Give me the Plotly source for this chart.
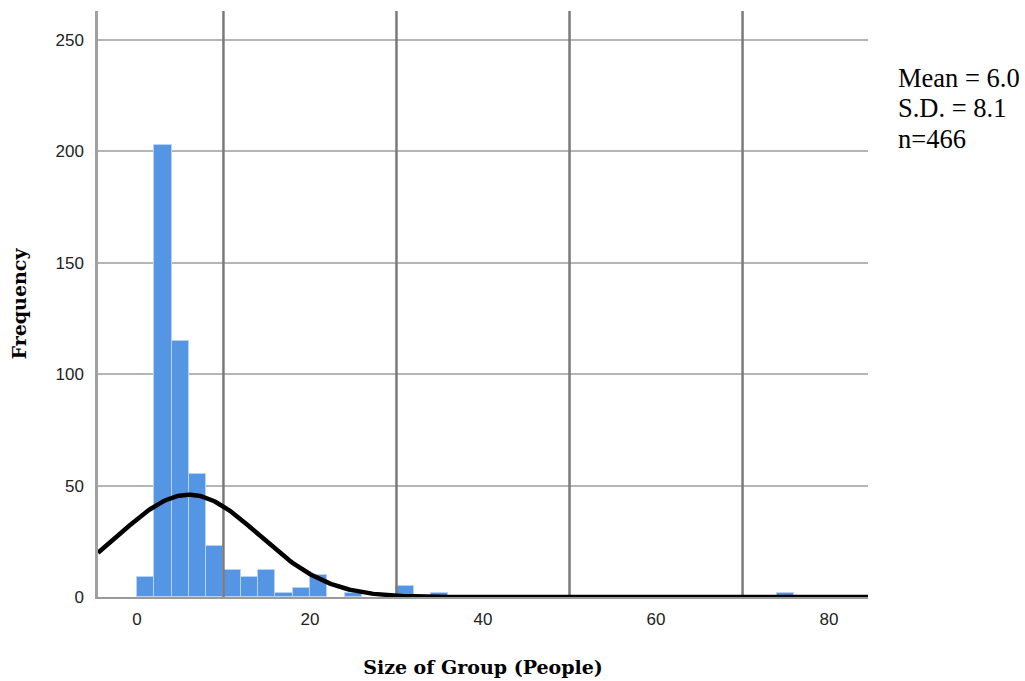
import math
import plotly.graph_objects as go

# ---- data ----
bin_starts = [0, 2, 4, 6, 8, 10, 12, 14, 16, 18, 20, 24, 30, 34, 74]
counts = [9, 203, 115, 55, 23, 12, 9, 12, 2, 4, 10, 2, 5, 2, 2]
bin_width = 2
mean_val = 6.0
sd_val = 8.1
n_val = 466
x_ticks = [0, 20, 40, 60, 80]
x_grid = [10, 30, 50, 70]
y_ticks = [0, 50, 100, 150, 200, 250]
stats_lines = ["Mean = 6.0", "S.D. = 8.1", "n=466"]

x_min, x_max = -4.5, 84.5
y_min, y_max = 0, 263

# fitted normal curve (scaled to counts per bin)
npts = 400
curve_x = [x_min + (x_max - x_min) * i / (npts - 1) for i in range(npts)]
scale = n_val * bin_width / (sd_val * math.sqrt(2 * math.pi))
curve_y = [scale * math.exp(-((x - mean_val) ** 2) / (2 * sd_val ** 2)) for x in curve_x]

# vertical reference lines (drawn above the bars, below the curve)
vx, vy = [], []
for g in x_grid:
    vx += [g, g, None]
    vy += [y_min, y_max, None]

fig = go.Figure()
fig.add_trace(go.Bar(
    x=bin_starts, y=counts, width=bin_width, offset=0,
    marker=dict(color="#5596e4", line=dict(color="#b9d2f3", width=1)),
    hoverinfo="skip", showlegend=False,
))
fig.add_trace(go.Scatter(
    x=vx, y=vy, mode="lines", line=dict(color="#7a7a7a", width=2.5),
    hoverinfo="skip", showlegend=False, cliponaxis=False,
))
fig.add_trace(go.Scatter(
    x=curve_x, y=curve_y, mode="lines",
    line=dict(color="black", width=4.5), cliponaxis=True,
    hoverinfo="skip", showlegend=False,
))

for i, t in enumerate(stats_lines):
    fig.add_annotation(
        text=t, xref="paper", yref="paper",
        x=1.037, y=0.886 - i * 0.052, xanchor="left", yanchor="middle",
        showarrow=False, font=dict(family="Liberation Serif", size=26.5, color="black"),
    )

fig.update_layout(
    width=1025, height=681,
    margin=dict(l=98, r=157, t=11, b=84, autoexpand=False),
    paper_bgcolor="white", plot_bgcolor="white",
    bargap=0,
    font=dict(family="Liberation Sans", size=17, color="#222222"),
)
fig.update_xaxes(
    range=[x_min, x_max], tickvals=x_ticks, showgrid=False, automargin=False,
    showline=True, linecolor="#9a9a9a", linewidth=2, zeroline=False,
    ticks="", tickfont=dict(size=17, color="#222222"), ticklabelstandoff=6,
    title=dict(text="<b>Size of Group (People)</b>",
               font=dict(family="DejaVu Serif", size=19, color="black"), standoff=32),
)
fig.update_yaxes(
    range=[y_min, y_max], tickvals=y_ticks, showgrid=True, automargin=False,
    gridcolor="#b5b5b5", gridwidth=1.5,
    showline=True, linecolor="#a0a0a0", linewidth=2.5, zeroline=False,
    ticks="", tickfont=dict(size=17, color="#222222"), ticklabelstandoff=8,
    title=dict(text="<b>Frequency</b>",
               font=dict(family="DejaVu Serif", size=19, color="black"), standoff=24),
)

fig.write_html("out.html", config={"displayModeBar": False},
               post_script="document.body.style.margin='0';")
